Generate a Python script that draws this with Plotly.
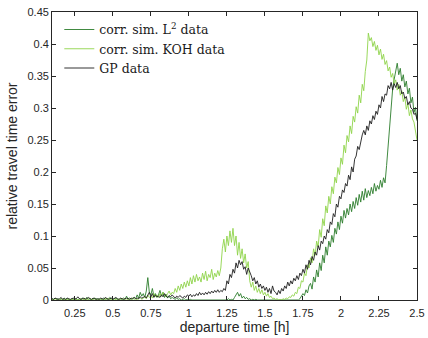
import numpy as np
import plotly.graph_objects as go

# departure time grid [h], 0.10 .. 2.50 in steps of 0.01
time_h = np.round(np.arange(0.10, 2.5001, 0.01), 2)

l2_err = [
    0.002,0.001,0.003,0.001,0.002,0.000,0.002,0.001,0.003,0.001,
    0.002,0.001,0.000,0.002,0.001,0.003,0.001,0.000,0.002,0.001,
    0.003,0.001,0.002,0.004,0.001,0.002,0.000,0.001,0.003,0.002,
    0.001,0.002,0.000,0.001,0.003,0.001,0.002,0.001,0.004,0.002,
    0.001,0.002,0.003,0.001,0.000,0.002,0.001,0.003,0.001,0.006,
    0.002,0.003,0.001,0.002,0.004,0.002,0.008,0.003,0.012,0.006,
    0.010,0.004,0.014,0.035,0.012,0.008,0.018,0.006,0.010,0.004,
    0.008,0.015,0.006,0.012,0.004,0.009,0.003,0.006,0.002,0.004,
    0.002,0.001,0.003,0.001,0.002,0.000,0.001,0.002,0.000,0.001,
    0.000,0.001,0.000,0.000,0.001,0.000,0.000,0.001,0.000,0.000,
    0.001,0.000,0.000,0.001,0.000,0.000,0.001,0.000,0.000,0.001,
    0.000,0.001,0.000,0.000,0.001,0.000,0.002,0.000,0.001,0.000,
    0.004,0.008,0.012,0.006,0.010,0.003,0.006,0.002,0.004,0.001,
    0.002,0.000,0.001,0.000,0.001,0.000,0.000,0.001,0.000,0.000,
    0.001,0.000,0.000,0.001,0.000,0.000,0.001,0.000,0.000,0.001,
    0.000,0.001,0.000,0.000,0.001,0.000,0.000,0.001,0.000,0.000,
    0.000,0.001,0.000,0.002,0.006,0.010,0.007,0.016,0.011,0.022,
    0.026,0.017,0.036,0.028,0.047,0.036,0.058,0.046,0.070,0.058,
    0.083,0.070,0.092,0.083,0.101,0.090,0.112,0.103,0.122,0.110,
    0.131,0.120,0.140,0.128,0.143,0.133,0.150,0.138,0.154,0.143,
    0.160,0.148,0.165,0.153,0.170,0.156,0.174,0.160,0.171,0.163,
    0.176,0.166,0.182,0.170,0.179,0.173,0.187,0.176,0.191,0.183,
    0.210,0.240,0.270,0.300,0.330,0.345,0.355,0.370,0.352,0.362,
    0.342,0.352,0.333,0.342,0.322,0.331,0.308,0.317,0.293,0.301,0.280,
]

koh_err = [
    0.001,0.000,0.002,0.001,0.000,0.001,0.002,0.000,0.001,0.000,
    0.001,0.002,0.000,0.001,0.000,0.002,0.001,0.000,0.001,0.002,
    0.000,0.001,0.002,0.000,0.001,0.003,0.001,0.000,0.002,0.001,
    0.000,0.001,0.002,0.001,0.000,0.002,0.001,0.003,0.000,0.001,
    0.002,0.000,0.001,0.002,0.001,0.000,0.003,0.001,0.002,0.000,
    0.001,0.002,0.001,0.003,0.001,0.002,0.000,0.002,0.004,0.001,
    0.003,0.005,0.002,0.008,0.004,0.006,0.003,0.010,0.005,0.008,
    0.004,0.010,0.006,0.012,0.008,0.005,0.010,0.014,0.008,0.012,
    0.010,0.018,0.012,0.022,0.015,0.025,0.018,0.028,0.020,0.030,
    0.022,0.035,0.025,0.038,0.028,0.040,0.030,0.036,0.028,0.042,
    0.032,0.045,0.030,0.040,0.035,0.048,0.032,0.042,0.036,0.046,
    0.038,0.050,0.080,0.095,0.075,0.100,0.085,0.108,0.090,0.112,
    0.085,0.100,0.070,0.090,0.065,0.080,0.058,0.072,0.050,0.060,
    0.030,0.020,0.028,0.015,0.022,0.012,0.018,0.010,0.016,0.008,
    0.012,0.006,0.010,0.004,0.006,0.002,0.003,0.001,0.002,0.000,
    0.001,0.000,0.002,0.001,0.003,0.002,0.005,0.004,0.008,0.006,
    0.012,0.010,0.020,0.018,0.030,0.028,0.042,0.038,0.055,0.050,
    0.066,0.058,0.080,0.070,0.092,0.083,0.110,0.098,0.127,0.116,
    0.147,0.136,0.162,0.150,0.177,0.166,0.192,0.183,0.207,0.196,
    0.222,0.212,0.242,0.230,0.257,0.247,0.272,0.260,0.287,0.278,
    0.302,0.292,0.320,0.308,0.337,0.327,0.357,0.375,0.417,0.405,
    0.410,0.396,0.404,0.390,0.398,0.383,0.392,0.376,0.384,0.368,
    0.374,0.358,0.364,0.348,0.354,0.338,0.344,0.328,0.337,0.320,
    0.327,0.310,0.317,0.298,0.307,0.288,0.297,0.283,0.278,0.265,0.250,
]

gp_err = [
    0.002,0.001,0.003,0.002,0.001,0.002,0.004,0.001,0.002,0.001,
    0.003,0.002,0.001,0.002,0.003,0.001,0.002,0.005,0.002,0.001,
    0.002,0.003,0.001,0.002,0.004,0.002,0.001,0.003,0.002,0.001,
    0.002,0.001,0.003,0.002,0.001,0.004,0.002,0.001,0.002,0.003,
    0.001,0.002,0.004,0.002,0.001,0.003,0.002,0.001,0.002,0.003,
    0.002,0.001,0.003,0.002,0.004,0.002,0.003,0.002,0.005,0.003,
    0.004,0.006,0.003,0.008,0.012,0.005,0.010,0.004,0.008,0.005,
    0.006,0.004,0.008,0.005,0.010,0.006,0.004,0.007,0.005,0.008,
    0.005,0.003,0.006,0.004,0.007,0.005,0.003,0.006,0.004,0.008,
    0.006,0.009,0.005,0.008,0.006,0.010,0.007,0.012,0.008,0.011,
    0.008,0.012,0.009,0.013,0.010,0.014,0.011,0.015,0.012,0.016,
    0.012,0.015,0.013,0.018,0.015,0.030,0.025,0.040,0.035,0.048,
    0.042,0.058,0.050,0.062,0.055,0.060,0.048,0.052,0.040,0.050,
    0.045,0.038,0.030,0.035,0.025,0.030,0.020,0.025,0.018,0.022,
    0.015,0.020,0.012,0.018,0.010,0.022,0.014,0.012,0.008,0.015,
    0.010,0.018,0.014,0.022,0.018,0.028,0.022,0.030,0.025,0.034,
    0.030,0.038,0.032,0.042,0.038,0.048,0.042,0.055,0.048,0.062,
    0.055,0.068,0.062,0.075,0.070,0.085,0.078,0.092,0.088,0.100,
    0.095,0.110,0.105,0.122,0.118,0.135,0.130,0.150,0.145,0.162,
    0.158,0.172,0.168,0.182,0.178,0.195,0.188,0.208,0.200,0.220,
    0.225,0.240,0.235,0.250,0.258,0.265,0.258,0.272,0.265,0.280,
    0.275,0.288,0.282,0.295,0.290,0.305,0.300,0.318,0.310,0.322,
    0.320,0.335,0.330,0.340,0.328,0.338,0.332,0.340,0.330,0.335,
    0.322,0.325,0.315,0.318,0.305,0.310,0.300,0.298,0.290,0.292,0.282,
]

series_names = ["corr. sim. L<sup>2</sup> data", "corr. sim. KOH data", "GP data"]
series_colors = ["#2b7d2b", "#8fd44a", "#1e1e1e"]

x_ticks = [0.25, 0.5, 0.75, 1, 1.25, 1.5, 1.75, 2, 2.25, 2.5]
x_ticklabels = ["0.25", "0.5", "0.75", "1", "1.25", "1.5", "1.75", "2", "2.25", "2.5"]
y_ticks = [0, 0.05, 0.1, 0.15, 0.2, 0.25, 0.3, 0.35, 0.4, 0.45]
y_ticklabels = ["0", "0.05", "0.1", "0.15", "0.2", "0.25", "0.3", "0.35", "0.4", "0.45"]

fig = go.Figure()
for name, vals, col in zip(series_names, [l2_err, koh_err, gp_err], series_colors):
    fig.add_trace(go.Scatter(x=time_h, y=vals, mode="lines", name=name,
                             line=dict(color=col, width=0.9)))

axis_common = dict(showline=True, linecolor="#262626", linewidth=0.8, mirror="ticks",
                   ticks="inside", ticklen=4, tickcolor="#262626", showgrid=False,
                   zeroline=False, automargin=False,
                   tickfont=dict(family="Liberation Sans, Arial", size=11, color="#262626"))

fig.update_xaxes(range=[0.1, 2.5], tickvals=x_ticks, ticktext=x_ticklabels,
                 ticklabelstandoff=3,
                 title=dict(text="departure time [h]", standoff=4,
                            font=dict(family="Liberation Sans, Arial", size=14, color="#262626")),
                 **axis_common)
fig.update_yaxes(range=[0, 0.45], tickvals=y_ticks, ticktext=y_ticklabels,
                 title=dict(text="relative travel time error", standoff=6,
                            font=dict(family="Liberation Sans, Arial", size=14, color="#262626")),
                 **axis_common)

fig.update_layout(
    width=428, height=338,
    margin=dict(l=52, r=11, t=12, b=38, autoexpand=False),
    plot_bgcolor="white", paper_bgcolor="white",
    legend=dict(x=0.02, y=0.99, xanchor="left", yanchor="top",
                bgcolor="rgba(0,0,0,0)", borderwidth=0,
                font=dict(family="DejaVu Serif", size=12.5, color="#1a1a1a"),
                tracegroupgap=0, itemwidth=30),
    showlegend=True,
)

fig.write_html("out.html")
